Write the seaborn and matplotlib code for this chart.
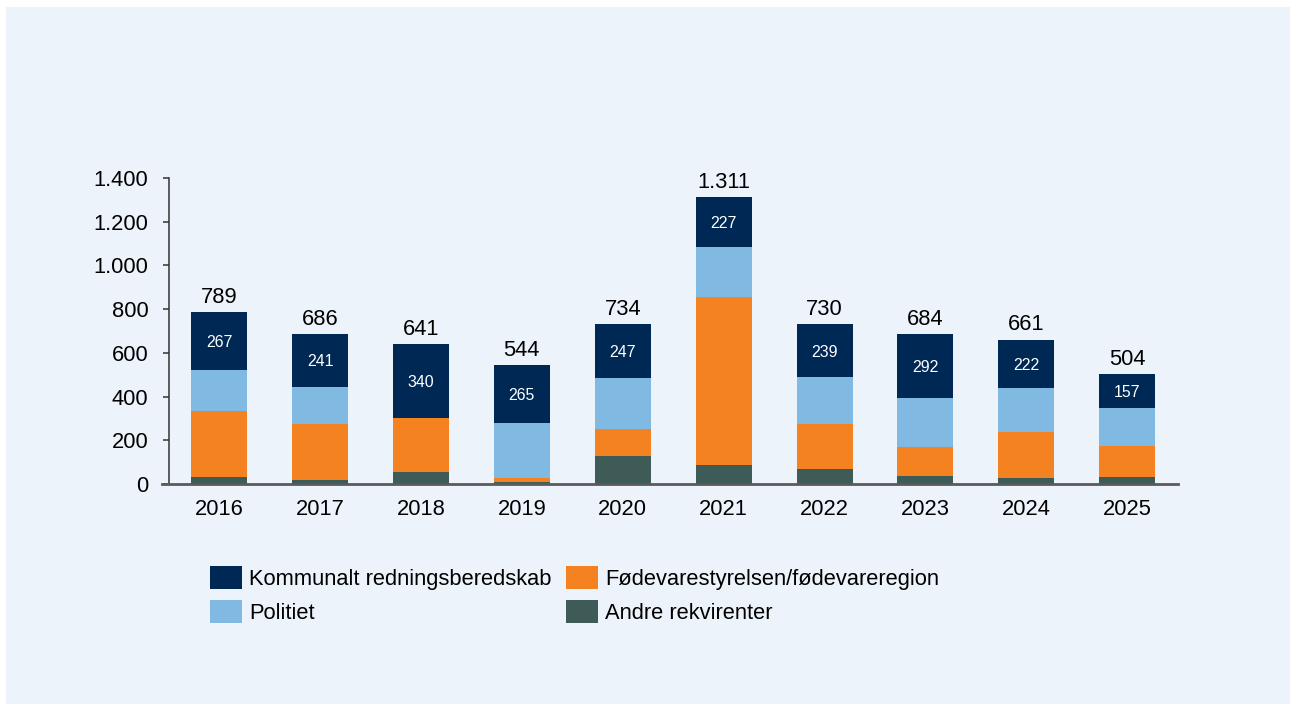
import matplotlib.pyplot as plt
import numpy as np
import pandas as pd
import seaborn as sns
from matplotlib.patches import Rectangle
from matplotlib.ticker import FuncFormatter

years = ["2016", "2017", "2018", "2019", "2020", "2021", "2022", "2023", "2024", "2025"]
kommunalt = [267, 241, 340, 265, 247, 227, 239, 292, 222, 157]
politiet = [190, 169, 0, 250, 235, 229, 218, 224, 203, 175]
foedevare = [302, 259, 245, 18, 124, 767, 206, 131, 207, 140]
andre = [30, 17, 56, 11, 128, 88, 67, 37, 29, 32]

names = ["Kommunalt redningsberedskab", "Politiet",
         "Fødevarestyrelsen/fødevareregion", "Andre rekvirenter"]
colors = ["#002854", "#80BAE2", "#F58220", "#3F5B57"]

panel = "#ECF3FA"
fs = 15.75


def dot_thousands(v):
    return f"{int(v):,}".replace(",", ".")


df = pd.DataFrame({"year": years, "Kommunalt": kommunalt, "Politiet": politiet,
                   "Foedevare": foedevare, "Andre": andre})
# cumulative heights, drawn from the top segment down so each covers the one below
df["c_andre"] = df["Andre"]
df["c_foed"] = df["c_andre"] + df["Foedevare"]
df["c_pol"] = df["c_foed"] + df["Politiet"]
df["c_kom"] = df["c_pol"] + df["Kommunalt"]

sns.set_style("white")
plt.rcParams["font.family"] = ["Liberation Sans", "DejaVu Sans"]
plt.rcParams["text.color"] = "black"

fig = plt.figure(figsize=(12.9, 7.04), dpi=100)
fig.patch.set_facecolor("white")
fig.patches.append(Rectangle((6 / 1290, 0), 1, 1 - 7 / 704, transform=fig.transFigure,
                             facecolor=panel, edgecolor="none", zorder=-10))

ax = fig.add_axes([168.7 / 1290, 1 - 484 / 704, 1009 / 1290, 306 / 704])
ax.set_facecolor("none")

for col, name, color in zip(["c_kom", "c_pol", "c_foed", "c_andre"], names, colors):
    sns.barplot(data=df, x="year", y=col, color=color, saturation=1, width=0.555,
                errorbar=None, ax=ax, label=name, linewidth=0)

ax.set_xlim(-0.5, 9.5)
ax.set_ylim(0, 1400)
ax.set_yticks(np.arange(0, 1401, 200))
ax.yaxis.set_major_formatter(FuncFormatter(lambda v, p: dot_thousands(v)))
ax.set_xlabel("")
ax.set_ylabel("")

# totals above the bars
ax.bar_label(ax.containers[0], labels=[dot_thousands(v) for v in df["c_kom"]],
             padding=2.9, fontsize=fs, color="black")
# Kommunalt values inside the top segment
for i, (tot, k) in enumerate(zip(df["c_kom"], df["Kommunalt"])):
    ax.text(i, tot - k / 2, str(k), ha="center", va="center_baseline",
            fontsize=11.4, color="white")

for s in ["top", "right"]:
    ax.spines[s].set_visible(False)
ax.spines["left"].set_color("#333333")
ax.spines["left"].set_linewidth(1.1)
ax.spines["bottom"].set_color("#5A5A5A")
ax.spines["bottom"].set_linewidth(2)
ax.spines["bottom"].set_bounds(-0.565, 9.5)

ax.tick_params(axis="y", direction="out", length=4.6, width=1.1, color="#333333",
               pad=10, labelsize=fs, labelcolor="black", left=True)
ax.tick_params(axis="x", length=0, pad=11, labelsize=fs, labelcolor="black")

h, l = ax.get_legend_handles_labels()
if ax.get_legend():
    ax.get_legend().remove()
fig.legend(h, l, loc="upper left", bbox_to_anchor=(210 / 1290, 1 - 566 / 704),
           ncol=2, frameon=False, fontsize=fs, handlelength=1.46,
           handleheight=1.25, handletextpad=0.32, columnspacing=0.67,
           labelspacing=0.45, borderpad=0, borderaxespad=0)

fig.savefig("out.png", dpi=100, facecolor=fig.get_facecolor())
